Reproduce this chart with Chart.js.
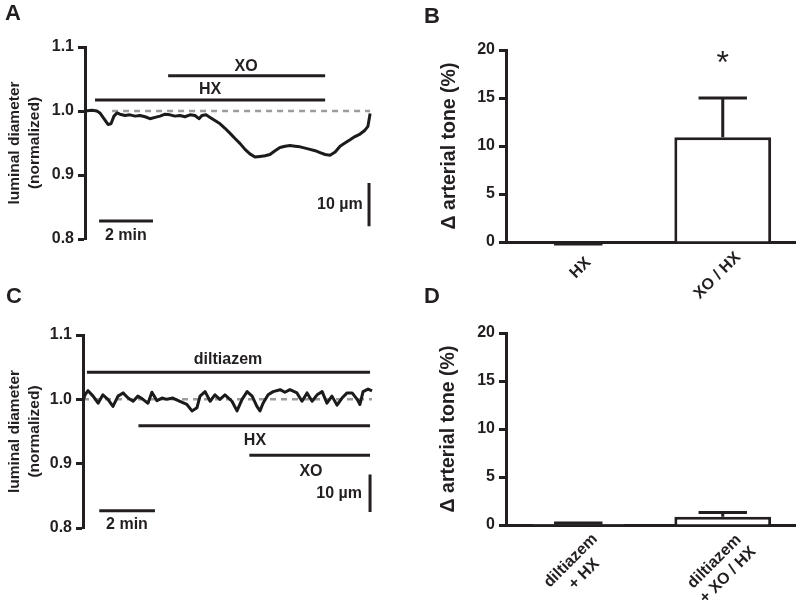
<!DOCTYPE html>
<html>
<head>
<meta charset="utf-8">
<title>Luminal diameter and arterial tone</title>
<script src="https://cdn.jsdelivr.net/npm/chart.js@4.4.1/dist/chart.umd.min.js"></script>
<style>
  html, body { margin: 0; padding: 0; background: #fff; }
  #fig { position: relative; width: 800px; height: 609px; overflow: hidden; }
  #fig canvas { position: absolute; }
  .tag { position: absolute; font: bold 22px Arial, "Liberation Sans", sans-serif; line-height: 1; color: #231f20; }
</style>
</head>
<body>
<div id="fig">
  <canvas id="chartA" width="400" height="300" style="left:0;top:0"></canvas>
  <canvas id="chartB" width="400" height="300" style="left:400px;top:0"></canvas>
  <canvas id="chartC" width="400" height="309" style="left:0;top:300px"></canvas>
  <canvas id="chartD" width="400" height="309" style="left:400px;top:300px"></canvas>
  <div class="tag" style="left:5px;top:2px">A</div>
  <div class="tag" style="left:424px;top:5px">B</div>
  <div class="tag" style="left:6px;top:285px">C</div>
  <div class="tag" style="left:424px;top:285px">D</div>
</div>
<script>
// ---------- panel A : diameter trace, HX then XO ----------
const timeA = [0, 0.26, 0.44, 0.55, 0.70, 0.85, 0.96, 1.07, 1.18, 1.29, 1.48, 1.66, 1.85, 2.03, 2.22, 2.40,
  2.59, 2.77, 2.96, 3.14, 3.32, 3.51, 3.69, 3.88, 4.06, 4.21, 4.32, 4.47, 4.62, 4.80, 4.99, 5.17,
  5.36, 5.54, 5.73, 5.91, 6.09, 6.28, 6.46, 6.65, 6.83, 7.02, 7.20, 7.39, 7.57, 7.76, 7.94, 8.13,
  8.31, 8.50, 8.68, 8.87, 9.05, 9.24, 9.42, 9.60, 9.79, 9.97, 10.16, 10.34, 10.45, 10.53];
const diamA = [1.000, 1.001, 1.000, 0.997, 0.988, 0.979, 0.980, 0.992, 0.997, 0.995, 0.993, 0.994, 0.992, 0.993, 0.991, 0.988,
  0.990, 0.992, 0.995, 0.994, 0.992, 0.993, 0.991, 0.994, 0.993, 0.988, 0.993, 0.994, 0.990, 0.985, 0.980, 0.973,
  0.965, 0.957, 0.949, 0.940, 0.933, 0.928, 0.929, 0.930, 0.932, 0.938, 0.943, 0.945, 0.946, 0.945, 0.944, 0.942,
  0.940, 0.938, 0.935, 0.932, 0.931, 0.936, 0.945, 0.950, 0.955, 0.960, 0.964, 0.970, 0.976, 0.996];
const baselineA = [1.0, 10.53];                       // dashed 1.0 line, start/end (min)
const drugBarsA = [[0.37, 8.87, 1.017], [3.07, 8.87, 1.055]]; // HX, XO: start, end, level
const timeScaleA = [0.52, 2.51, 0.828];                // 2 min bar
const diamScaleA = [10.49, 0.8875, 0.820];             // 10 µm bar
const labelsA = [['XO', 5.95, 1.070], ['HX', 4.62, 1.033], ['2 min', 1.51, 0.806], ['10 µm', 10.26, 0.853]];

// ---------- panel C : diameter trace with diltiazem ----------
const timeC = [0, 0.07, 0.18, 0.36, 0.54, 0.71, 0.89, 1.07, 1.25, 1.43, 1.61, 1.79, 1.96, 2.14, 2.32, 2.46,
  2.64, 2.82, 3.00, 3.21, 3.46, 3.71, 3.89, 4.07, 4.18, 4.36, 4.54, 4.71, 4.89, 5.07, 5.32, 5.50,
  5.68, 5.86, 6.04, 6.21, 6.32, 6.43, 6.61, 6.79, 7.04, 7.21, 7.39, 7.64, 7.82, 8.00, 8.18, 8.36,
  8.54, 8.71, 8.89, 9.07, 9.25, 9.43, 9.61, 9.79, 9.89, 10.00, 10.18, 10.32];
const diamC = [0.997, 1.007, 1.0135, 1.005, 0.994, 1.007, 1.000, 0.989, 1.005, 1.010, 1.002, 0.997, 1.005, 1.000, 0.994, 1.011,
  0.998, 1.002, 1.000, 1.002, 0.997, 0.992, 0.982, 0.987, 1.005, 1.012, 0.997, 1.007, 1.000, 1.007, 0.997, 0.982,
  1.000, 1.012, 1.005, 0.989, 0.982, 0.994, 1.007, 1.012, 1.015, 1.011, 1.015, 1.010, 0.997, 1.010, 0.997, 1.007,
  1.012, 0.994, 1.005, 0.991, 1.002, 1.010, 1.010, 1.000, 0.992, 1.012, 1.016, 1.013];
const baselineC = [0, 10.32];
const drugBarsC = [[0.14, 10.25, 1.042], [1.98, 10.25, 0.959], [5.94, 10.25, 0.913]]; // diltiazem, HX, XO
const timeScaleC = [0.58, 2.57, 0.827];
const diamScaleC = [10.25, 0.883, 0.825];
const labelsC = [['diltiazem', 5.18, 1.061], ['HX', 6.14, 0.936], ['XO', 8.14, 0.888], ['2 min', 1.57, 0.805], ['10 µm', 9.96, 0.854]];

// ---------- panels B and D : change in arterial tone ----------
const groupsB = [['HX'], ['XO / HX']];
const meanB = [-0.1, 10.9];
const semB = [0.1, 4.1];
const sigB = ['', '*'];
const sigLevelB = 19.3;

const groupsD = [['diltiazem', '+ HX'], ['diltiazem', '+ XO / HX']];
const meanD = [0.1, 0.85];
const semD = [0.1, 0.45];

const toneTicks = [0, 5, 10, 15, 20];

// ---------- drawing ----------
const INK = '#231f20';
const FONT = 'Arial, "Liberation Sans", Helvetica, sans-serif';
Chart.defaults.font.family = FONT;
Chart.defaults.font.weight = 'bold';
Chart.defaults.color = INK;

// text placed in data coordinates
function textPlugin(items) {
  return {
    id: 'dataText',
    afterDraw(chart) {
      const {ctx, scales: {x, y}} = chart;
      ctx.save();
      ctx.font = 'bold 16px ' + FONT;
      ctx.fillStyle = INK;
      ctx.textBaseline = 'middle';
      items.forEach(it => {
        ctx.textAlign = it[0] === '10 µm' ? 'right' : 'center';
        ctx.fillText(it[0], x.getPixelForValue(it[1]), y.getPixelForValue(it[2]));
      });
      ctx.restore();
    }
  };
}

function traceChart(id, t, v, xMax, base, bars, tBar, dBar, labels, pad, axisW) {
  const seg = (x0, x1, y0, y1) => [{x: x0, y: y0}, {x: x1, y: y1}];
  const line = (data, extra) => Object.assign({
    data, borderColor: INK, borderWidth: 3, pointRadius: 0, clip: false, borderCapStyle: 'butt', order: 0
  }, extra);
  const datasets = [
    line(t.map((x, i) => ({x, y: v[i]})), {borderWidth: 3, borderJoinStyle: 'round', borderColor: '#1c1a1b'}),
    line(seg(base[0], base[1], 1, 1), {borderColor: '#9c9c9c', borderDash: [6, 5], borderWidth: 2.5, order: 1}),
    ...bars.map(b => line(seg(b[0], b[1], b[2], b[2]))),
    line(seg(tBar[0], tBar[1], tBar[2], tBar[2])),
    line(seg(dBar[0], dBar[0], dBar[1], dBar[2]))
  ];
  return new Chart(document.getElementById(id), {
    type: 'line',
    data: {datasets},
    options: {
      responsive: false,
      animation: false,
      layout: {padding: pad},
      plugins: {legend: {display: false}, tooltip: {enabled: false}},
      scales: {
        x: {type: 'linear', display: false, min: 0, max: xMax},
        y: {
          min: 0.8, max: 1.1,
          ticks: {stepSize: 0.1, padding: 4, font: {size: 16}, callback: val => val.toFixed(1)},
          grid: {drawOnChartArea: false, tickLength: 7, tickWidth: 3, tickColor: INK},
          border: {color: INK, width: 3},
          title: {display: true, text: ['luminal diameter', '(normalized)'],
                  font: {size: 15.5, lineHeight: 1.29}, padding: {top: 5, bottom: 0}},
          afterFit: s => { s.width = axisW; }
        }
      }
    },
    plugins: [textPlugin(labels)]
  });
}

// error bars (+ significance mark) on top of the bars
function errPlugin(means, errs, sig, sigLevel) {
  return {
    id: 'errBars',
    afterDatasetsDraw(chart) {
      const {ctx, scales: {y}} = chart;
      const bars = chart.getDatasetMeta(0).data;
      ctx.save();
      ctx.strokeStyle = INK;
      ctx.lineWidth = 3;
      bars.forEach((b, i) => {
        const m = means[i];
        const y0 = y.getPixelForValue(m);
        const y1 = y.getPixelForValue(m >= 0 ? m + errs[i] : m - errs[i]);
        const hw = b.width / 4;
        ctx.beginPath();
        ctx.moveTo(b.x, y0); ctx.lineTo(b.x, y1);
        ctx.moveTo(b.x - hw, y1); ctx.lineTo(b.x + hw, y1);
        ctx.stroke();
        if (sig && sig[i]) {
          ctx.font = '32px ' + FONT;
          ctx.fillStyle = INK;
          ctx.textAlign = 'center';
          ctx.textBaseline = 'alphabetic';
          const mt = ctx.measureText(sig[i]);
          const yc = y.getPixelForValue(sigLevel);
          ctx.fillText(sig[i], b.x, yc + (mt.actualBoundingBoxAscent - mt.actualBoundingBoxDescent) / 2);
        }
      });
      ctx.restore();
    }
  };
}

// rotated, centred multi-line category labels
function xLabelPlugin(groups) {
  return {
    id: 'xLabels',
    afterDraw(chart) {
      const {ctx, scales: {x}, chartArea} = chart;
      ctx.save();
      ctx.font = 'bold 16px ' + FONT;
      ctx.fillStyle = INK;
      ctx.textAlign = 'center';
      ctx.textBaseline = 'middle';
      groups.forEach((lines, i) => {
        const w = Math.max(...lines.map(s => ctx.measureText(s).width));
        ctx.save();
        ctx.translate(x.getPixelForValue(i), chartArea.bottom);
        ctx.rotate(-Math.PI / 4);
        lines.forEach((s, j) => ctx.fillText(s, -10 - 0.3 * w, 20 + j * 19));
        ctx.restore();
      });
      ctx.restore();
    }
  };
}

function barChart(id, groups, means, errs, sig, sigLevel, pad, titlePad) {
  return new Chart(document.getElementById(id), {
    type: 'bar',
    data: {
      labels: groups.map(g => g.join(' ')),
      datasets: [{
        data: means, backgroundColor: '#ffffff', borderColor: INK, borderWidth: 3,
        borderSkipped: 'start', barPercentage: 0.67, categoryPercentage: 1
      }]
    },
    options: {
      responsive: false,
      animation: false,
      layout: {padding: pad},
      plugins: {legend: {display: false}, tooltip: {enabled: false}},
      scales: {
        x: {
          grid: {display: false}, border: {color: INK, width: 3}, ticks: {display: false},
          afterFit: s => { s.height = 0; }
        },
        y: {
          min: toneTicks[0], max: toneTicks[toneTicks.length - 1],
          afterBuildTicks: s => { s.ticks = toneTicks.map(v => ({value: v})); },
          ticks: {padding: 4, font: {size: 16}},
          grid: {drawOnChartArea: false, tickLength: 7, tickWidth: 3, tickColor: INK},
          border: {color: INK, width: 3},
          title: {display: true, text: 'Δ arterial tone (%)', font: {size: 19.5}, padding: {top: titlePad, bottom: 0}},
          afterFit: s => { s.width = 106; }
        }
      }
    },
    plugins: [errPlugin(means, errs, sig, sigLevel), xLabelPlugin(groups)]
  });
}

traceChart('chartA', timeA, diamA, 10.6, baselineA, drugBarsA, timeScaleA, diamScaleA, labelsA,
  {left: 0, right: 28, top: 47, bottom: 61}, 85);
traceChart('chartC', timeC, diamC, 10.32, baselineC, drugBarsC, timeScaleC, diamScaleC, labelsC,
  {left: 0, right: 28, top: 35, bottom: 81}, 83);
barChart('chartB', groupsB, meanB, semB, sigB, sigLevelB, {left: 0, right: 5, top: 50, bottom: 58}, 38.3);
barChart('chartD', groupsD, meanD, semD, null, 0, {left: 0, right: 5, top: 33, bottom: 84}, 36.7);
</script>
</body>
</html>
